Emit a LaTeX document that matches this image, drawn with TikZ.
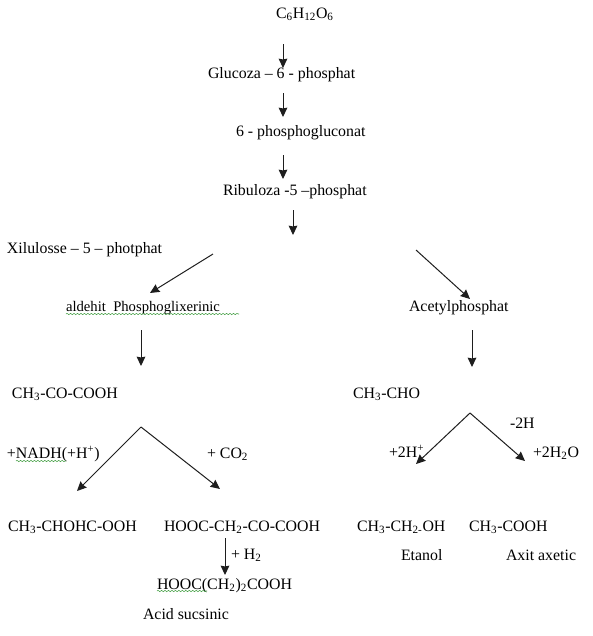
\documentclass[tikz,border=0pt]{standalone}
\usepackage{fontspec}
\setmainfont{Liberation Serif}
\usetikzlibrary{arrows.meta, decorations.pathmorphing}
\definecolor{spellgreen}{RGB}{70,160,70}
\definecolor{arrowdark}{RGB}{30,30,30}
\newcommand{\sbt}[1]{\textsubscript{#1}}
\newcommand{\spt}[1]{\textsuperscript{#1}}
\tikzset{
  chemlabel/.style={
    anchor=base west, inner sep=0pt, outer sep=0pt,
    font=\fontsize{11.9pt}{14pt}\selectfont, text=black
  },
  flowarrow/.style={
    -{Stealth[length=7pt,width=6.5pt,inset=0.6pt]},
    draw=arrowdark, line width=0.75pt
  },
  spellwave/.style={
    draw=spellgreen, line width=0.4pt,
    decorate, decoration={snake, amplitude=0.5pt, segment length=2.6pt}
  },
}
\begin{document}
\begin{tikzpicture}[x=0.75pt, y=-0.75pt]

  \useasboundingbox[fill=white] (0,0) rectangle (593,636);

  %% Main chain
  \node[chemlabel] (hexose) at (276,18) {C\sbt{6}H\sbt{12}O\sbt{6}};
  \node[chemlabel] (glucoza) at (208,78) {Glucoza – 6 - phosphat};
  \node[chemlabel] (gluconat) at (236,136) {6 - phosphogluconat};
  \node[chemlabel] (ribuloza) at (223,195) {Ribuloza -5 –phosphat};
  \node[chemlabel] (xilulose) at (7,253) {Xilulosse – 5 – photphat};

  %% Left branch
  \node[chemlabel, font=\fontsize{11pt}{14pt}\selectfont] (aldehit) at (66,311) {aldehit\ \ Phosphoglixerinic};
  \node[chemlabel] (pyruvic) at (12,398) {CH\sbt{3}-CO-COOH};
  \node[chemlabel] (nadh) at (7,458) {+NADH(+H\spt{+})};
  \node[chemlabel] (coadd) at (207,458) {+ CO\sbt{2}};
  \node[chemlabel] (lactic) at (8,531) {CH\sbt{3}-CHOHC-OOH};
  \node[chemlabel] (oxalo) at (164,531) {HOOC-CH\sbt{2}-CO-COOH};
  \node[chemlabel] (hadd) at (231,559) {+ H\sbt{2}};
  \node[chemlabel] (succinic) at (157,589) {HOOC(CH\sbt{2})\sbt{2}COOH};
  \node[chemlabel] (sucname) at (143,619) {Acid sucsinic};

  %% Right branch
  \node[chemlabel] (acetyl) at (409,311) {Acetylphosphat};
  \node[chemlabel] (acetald) at (353,398) {CH\sbt{3}-CHO};
  \node[chemlabel] (minush) at (510,428) {-2H};
  \node[chemlabel] (plush) at (389,457) {+2H\spt{+}};
  \node[chemlabel] (pluswater) at (533,457) {+2H\sbt{2}O};
  \node[chemlabel] (ethanol) at (357,531) {CH\sbt{3}-CH\sbt{2-}OH};
  \node[chemlabel] (acetic) at (469,531) {CH\sbt{3}-COOH};
  \node[chemlabel] (etanolname) at (401,560) {Etanol};
  \node[chemlabel] (axitname) at (506,560) {Axit axetic};

  %% Free ends
  \coordinate (split) at (293,235);
  \coordinate (forkleft) at (141,427);
  \coordinate (forkright) at (470,413);

  %% Chain arrows
  \draw[flowarrow] ([shift={(7,26)}]hexose.base west) -- ([shift={(75,-10)}]glucoza.base west);
  \draw[flowarrow] ([shift={(75,15)}]glucoza.base west) -- ([shift={(47,-19)}]gluconat.base west);
  \draw[flowarrow] ([shift={(47,19)}]gluconat.base west) -- ([shift={(60,-16)}]ribuloza.base west);
  \draw[flowarrow] ([shift={(70,15)}]ribuloza.base west) -- (split);

  %% Split
  \draw[flowarrow] ([shift={(-80,19)}]split) -- ([shift={(84,-18)}]aldehit.base west);
  \draw[flowarrow] ([shift={(123,15)}]split) -- ([shift={(61,-12)}]acetyl.base west);
  \draw[flowarrow] ([shift={(75,19)}]aldehit.base west) -- ([shift={(129,-32)}]pyruvic.base west);
  \draw[flowarrow] ([shift={(63,19)}]acetyl.base west) -- ([shift={(119,-31)}]acetald.base west);

  %% Forks
  \draw[flowarrow] (forkleft) -- ([shift={(69,-40)}]lactic.base west);
  \draw[flowarrow] (forkleft) -- ([shift={(56,-42)}]oxalo.base west);
  \draw[flowarrow] (forkright) -- ([shift={(59,-67)}]ethanol.base west);
  \draw[flowarrow] (forkright) -- ([shift={(56,-70)}]acetic.base west);
  \draw[flowarrow] ([shift={(61,7)}]oxalo.base west) -- ([shift={(68,-14)}]succinic.base west);

  %% Spelling marks
  \draw[spellwave] ([shift={(0,3)}]aldehit.base west) -- ([shift={(173,3)}]aldehit.base west);
  \draw[spellwave] ([shift={(9,3)}]nadh.base west) -- ([shift={(59,3)}]nadh.base west);
  \draw[spellwave] ([shift={(0,2)}]succinic.base west) -- ([shift={(50,2)}]succinic.base west);

\end{tikzpicture}
\end{document}
